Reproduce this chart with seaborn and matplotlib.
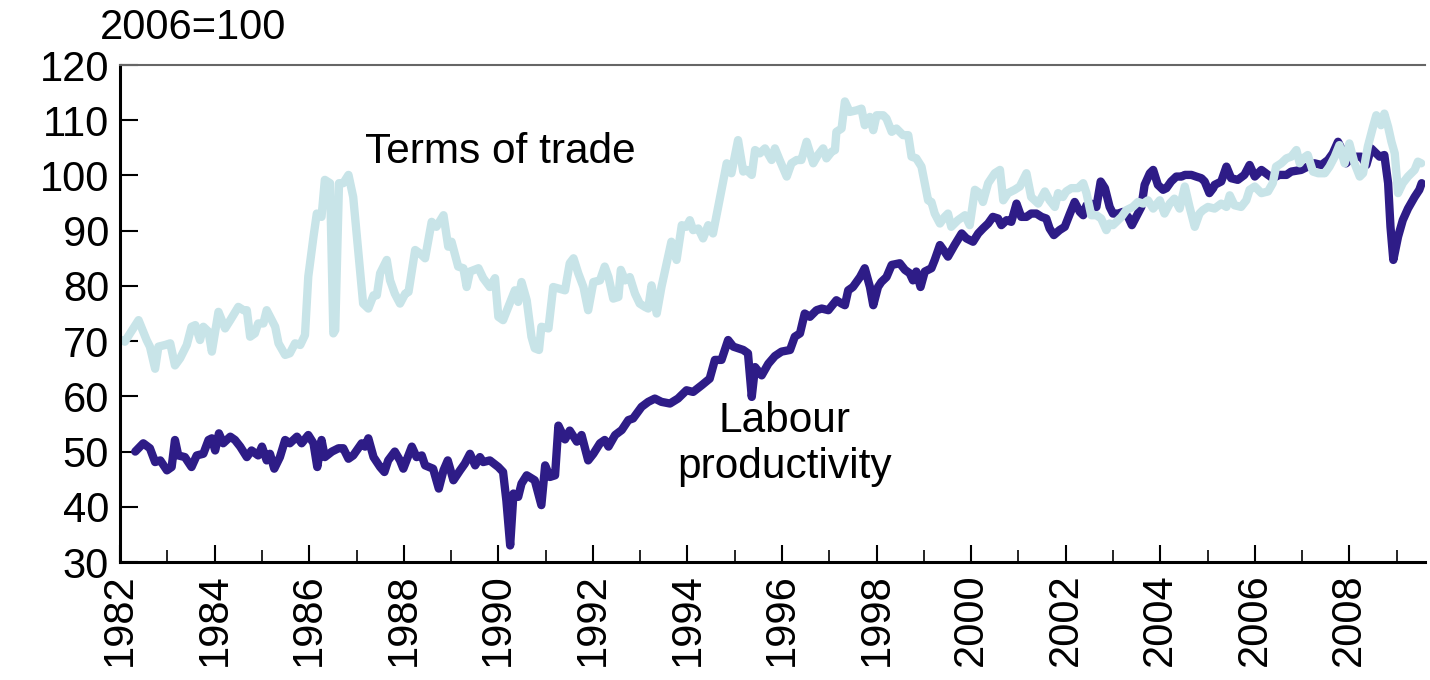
import pandas as pd
import matplotlib
matplotlib.use("Agg")
import matplotlib.pyplot as plt
import seaborn as sns

# Terms of trade (decimal year, index 2006=100)
tot_year = [
    1982.03, 1982.10, 1982.21, 1982.39, 1982.56, 1982.63, 1982.74, 1982.81, 1982.95, 1983.06,
    1983.16, 1983.27, 1983.41, 1983.51, 1983.59, 1983.69, 1983.76, 1983.87, 1983.94, 1984.08,
    1984.22, 1984.33, 1984.50, 1984.61, 1984.68, 1984.75, 1984.85, 1984.92, 1985.03, 1985.10,
    1985.28, 1985.35, 1985.49, 1985.59, 1985.70, 1985.81, 1985.91, 1985.98, 1986.09, 1986.16,
    1986.26, 1986.33, 1986.44, 1986.51, 1986.55, 1986.63, 1986.72, 1986.83, 1986.93, 1987.04,
    1987.14, 1987.25, 1987.36, 1987.43, 1987.50, 1987.64, 1987.71, 1987.81, 1987.92, 1988.03,
    1988.10, 1988.24, 1988.34, 1988.45, 1988.59, 1988.69, 1988.84, 1988.94, 1989.01, 1989.15,
    1989.26, 1989.33, 1989.40, 1989.58, 1989.68, 1989.82, 1989.93, 1990.00, 1990.10, 1990.21,
    1990.35, 1990.42, 1990.49, 1990.60, 1990.70, 1990.77, 1990.86, 1990.91, 1991.06, 1991.16,
    1991.41, 1991.51, 1991.59, 1991.69, 1991.80, 1991.90, 1992.01, 1992.15, 1992.25, 1992.33,
    1992.43, 1992.54, 1992.59, 1992.68, 1992.78, 1992.89, 1992.99, 1993.10, 1993.17, 1993.24,
    1993.35, 1993.45, 1993.59, 1993.66, 1993.77, 1993.88, 1993.98, 1994.05, 1994.12, 1994.23,
    1994.33, 1994.44, 1994.54, 1994.65, 1994.76, 1994.83, 1994.93, 1995.07, 1995.18, 1995.25,
    1995.36, 1995.43, 1995.53, 1995.64, 1995.78, 1995.85, 1995.95, 1996.10, 1996.20, 1996.31,
    1996.41, 1996.52, 1996.66, 1996.76, 1996.87, 1996.94, 1997.05, 1997.12, 1997.15, 1997.26,
    1997.33, 1997.43, 1997.58, 1997.68, 1997.75, 1997.86, 1997.93, 1998.00, 1998.14, 1998.21,
    1998.32, 1998.42, 1998.56, 1998.67, 1998.74, 1998.84, 1998.95, 1999.02, 1999.09, 1999.16,
    1999.23, 1999.34, 1999.44, 1999.51, 1999.58, 1999.72, 1999.87, 1999.97, 2000.08, 2000.18,
    2000.25, 2000.36, 2000.50, 2000.61, 2000.68, 2000.78, 2000.92, 2001.03, 2001.17, 2001.27,
    2001.42, 2001.56, 2001.66, 2001.77, 2001.84, 2001.94, 2002.01, 2002.12, 2002.26, 2002.37,
    2002.44, 2002.54, 2002.65, 2002.75, 2002.86, 2002.93, 2003.00, 2003.11, 2003.18, 2003.28,
    2003.42, 2003.53, 2003.64, 2003.74, 2003.85, 2003.99, 2004.09, 2004.20, 2004.30, 2004.41,
    2004.52, 2004.62, 2004.73, 2004.83, 2004.90, 2005.01, 2005.15, 2005.29, 2005.40, 2005.47,
    2005.57, 2005.71, 2005.82, 2005.89, 2006.00, 2006.14, 2006.28, 2006.38, 2006.45, 2006.56,
    2006.67, 2006.77, 2006.88, 2006.95, 2007.02, 2007.12, 2007.23, 2007.34, 2007.48, 2007.58,
    2007.69, 2007.79, 2007.90, 2008.00, 2008.11, 2008.22, 2008.29, 2008.39, 2008.50, 2008.57,
    2008.67, 2008.74, 2008.82, 2008.89, 2008.96, 2009.03, 2009.13, 2009.24, 2009.38, 2009.45,
    2009.52,
]
tot_value = [
    70.2, 69.9, 71.4, 73.8, 70.2, 69.0, 65.0, 69.0, 69.3, 69.6,
    65.6, 66.9, 69.3, 72.6, 72.9, 70.2, 72.6, 71.7, 68.1, 75.3,
    72.3, 73.8, 76.2, 75.6, 75.6, 70.8, 71.4, 73.2, 73.2, 75.6,
    72.6, 69.6, 67.5, 67.8, 69.6, 69.3, 71.1, 81.7, 88.9, 93.1,
    92.5, 99.2, 98.6, 71.4, 72.0, 98.6, 98.6, 100.1, 96.1, 85.9,
    76.8, 75.9, 78.3, 78.3, 82.3, 84.7, 81.0, 78.6, 76.8, 78.6,
    78.9, 86.5, 85.9, 85.0, 91.6, 90.7, 92.8, 87.1, 88.0, 83.5,
    83.2, 79.8, 82.6, 83.2, 81.4, 79.8, 81.4, 74.4, 73.8, 76.2,
    79.2, 77.1, 80.7, 77.4, 70.8, 68.7, 68.4, 72.6, 72.3, 79.8,
    79.2, 84.1, 85.0, 82.3, 79.8, 75.6, 80.7, 81.0, 83.5, 81.6,
    77.7, 78.0, 82.9, 81.0, 81.6, 78.6, 76.8, 76.2, 75.9, 80.1,
    75.0, 79.8, 85.3, 88.0, 84.7, 91.0, 90.7, 91.9, 90.1, 90.4,
    88.6, 91.0, 89.5, 94.3, 99.2, 102.2, 100.4, 106.4, 100.7, 101.0,
    100.1, 104.6, 104.0, 104.9, 102.8, 104.9, 102.8, 99.8, 102.2, 102.8,
    102.8, 106.1, 102.2, 103.7, 104.9, 103.1, 104.3, 104.6, 107.9, 108.5,
    113.4, 111.5, 111.8, 112.1, 109.1, 110.6, 108.2, 110.9, 110.9, 110.3,
    107.9, 108.5, 107.3, 107.3, 103.4, 103.1, 101.6, 98.6, 95.5, 95.2,
    93.1, 91.3, 92.5, 93.1, 90.7, 91.9, 92.8, 91.0, 97.4, 96.8,
    95.2, 98.6, 100.4, 101.0, 95.5, 96.8, 97.4, 98.0, 100.4, 96.1,
    94.9, 97.1, 95.5, 94.3, 96.8, 96.1, 97.1, 97.7, 97.7, 98.6,
    96.8, 92.8, 92.8, 92.2, 90.1, 91.3, 91.0, 91.9, 92.5, 93.7,
    94.3, 95.2, 94.9, 95.5, 94.0, 95.5, 93.1, 94.9, 95.8, 94.0,
    98.0, 94.3, 90.7, 93.1, 93.7, 94.3, 94.0, 94.9, 94.3, 96.4,
    94.6, 94.3, 95.5, 97.4, 98.0, 96.8, 97.1, 98.6, 101.6, 102.2,
    103.1, 103.4, 104.6, 102.2, 103.1, 103.7, 100.7, 100.4, 100.4, 101.6,
    103.4, 105.5, 102.2, 105.8, 102.2, 99.8, 100.4, 105.2, 108.8, 110.9,
    109.1, 111.2, 108.8, 106.1, 104.0, 96.8, 98.6, 99.8, 101.0, 102.5,
    102.2,
]

# Labour productivity (decimal year, index 2006=100)
lp_year = [
    1982.32, 1982.49, 1982.63, 1982.74, 1982.85, 1982.99, 1983.09, 1983.16, 1983.23, 1983.37,
    1983.51, 1983.62, 1983.76, 1983.87, 1983.94, 1984.01, 1984.09, 1984.18, 1984.33, 1984.43,
    1984.54, 1984.68, 1984.78, 1984.92, 1985.00, 1985.10, 1985.17, 1985.26, 1985.38, 1985.49,
    1985.59, 1985.74, 1985.84, 1985.98, 1986.09, 1986.17, 1986.26, 1986.33, 1986.48, 1986.62,
    1986.72, 1986.83, 1986.93, 1987.11, 1987.18, 1987.25, 1987.36, 1987.50, 1987.59, 1987.67,
    1987.81, 1987.92, 1987.99, 1988.17, 1988.27, 1988.38, 1988.45, 1988.62, 1988.74, 1988.84,
    1988.93, 1989.05, 1989.19, 1989.29, 1989.40, 1989.51, 1989.61, 1989.68, 1989.82, 1990.00,
    1990.10, 1990.17, 1990.25, 1990.32, 1990.42, 1990.49, 1990.60, 1990.77, 1990.91, 1990.99,
    1991.09, 1991.20, 1991.27, 1991.41, 1991.51, 1991.66, 1991.76, 1991.90, 1992.01, 1992.15,
    1992.25, 1992.33, 1992.47, 1992.61, 1992.75, 1992.85, 1993.03, 1993.17, 1993.31, 1993.45,
    1993.63, 1993.80, 1993.98, 1994.12, 1994.30, 1994.47, 1994.58, 1994.72, 1994.86, 1994.97,
    1995.18, 1995.28, 1995.36, 1995.43, 1995.57, 1995.71, 1995.85, 1995.99, 1996.17, 1996.27,
    1996.38, 1996.48, 1996.59, 1996.73, 1996.84, 1996.98, 1997.15, 1997.26, 1997.33, 1997.40,
    1997.50, 1997.65, 1997.75, 1997.86, 1997.93, 1998.03, 1998.10, 1998.21, 1998.32, 1998.49,
    1998.60, 1998.70, 1998.77, 1998.84, 1998.93, 1999.02, 1999.16, 1999.23, 1999.34, 1999.44,
    1999.51, 1999.65, 1999.80, 1999.90, 2000.04, 2000.15, 2000.25, 2000.36, 2000.46, 2000.57,
    2000.64, 2000.75, 2000.85, 2000.96, 2001.06, 2001.17, 2001.27, 2001.38, 2001.49, 2001.59,
    2001.66, 2001.75, 2001.87, 2001.98, 2002.09, 2002.19, 2002.30, 2002.37, 2002.44, 2002.54,
    2002.65, 2002.74, 2002.83, 2002.93, 2003.00, 2003.11, 2003.21, 2003.32, 2003.40, 2003.49,
    2003.60, 2003.67, 2003.78, 2003.85, 2003.95, 2004.06, 2004.13, 2004.23, 2004.34, 2004.45,
    2004.52, 2004.66, 2004.76, 2004.87, 2004.94, 2005.04, 2005.12, 2005.15, 2005.29, 2005.40,
    2005.50, 2005.64, 2005.78, 2005.89, 2006.00, 2006.14, 2006.28, 2006.38, 2006.52, 2006.67,
    2006.77, 2006.98, 2007.12, 2007.26, 2007.41, 2007.55, 2007.65, 2007.76, 2007.83, 2007.93,
    2008.04, 2008.11, 2008.25, 2008.36, 2008.46, 2008.57, 2008.64, 2008.74, 2008.82, 2008.87,
    2008.93, 2009.03, 2009.13, 2009.24, 2009.38, 2009.48, 2009.53,
]
lp_value = [
    50.0, 51.5, 50.6, 48.1, 48.4, 46.6, 47.2, 52.1, 49.3, 49.0,
    47.2, 49.3, 49.6, 52.1, 52.4, 50.2, 53.3, 51.5, 52.7, 52.1,
    50.9, 49.0, 50.2, 49.3, 50.9, 48.4, 49.6, 46.9, 49.0, 52.1,
    51.5, 52.7, 51.5, 53.0, 51.5, 47.2, 52.1, 49.0, 50.0, 50.6,
    50.6, 48.7, 49.3, 51.5, 50.9, 52.4, 49.0, 47.2, 46.3, 48.4,
    50.0, 48.4, 46.9, 50.9, 49.0, 49.3, 47.5, 46.9, 43.3, 46.6,
    48.4, 44.8, 46.6, 47.8, 49.6, 47.5, 49.0, 48.1, 48.4, 47.2,
    46.3, 41.1, 33.0, 42.4, 41.8, 44.2, 45.7, 44.8, 40.3, 47.5,
    45.4, 45.7, 54.7, 52.2, 53.8, 51.8, 53.0, 48.4, 49.6, 51.5,
    52.1, 50.9, 53.0, 53.9, 55.7, 56.0, 58.1, 59.0, 59.6, 59.0,
    58.7, 59.6, 61.1, 60.8, 62.0, 63.2, 66.6, 66.6, 70.2, 69.0,
    68.4, 67.8, 59.9, 65.3, 63.8, 65.9, 67.3, 68.1, 68.4, 70.8,
    71.4, 75.0, 74.4, 75.6, 75.9, 75.6, 77.4, 76.8, 76.5, 79.2,
    79.8, 81.6, 83.2, 79.8, 76.5, 79.8, 80.7, 81.6, 83.8, 84.1,
    82.9, 82.3, 81.0, 82.6, 79.8, 82.6, 83.2, 84.7, 87.4, 86.2,
    85.3, 87.4, 89.5, 88.6, 88.0, 89.5, 90.4, 91.3, 92.5, 92.2,
    91.0, 91.9, 91.6, 94.9, 92.5, 92.5, 93.1, 93.1, 92.5, 92.2,
    90.4, 89.2, 90.1, 90.7, 93.1, 95.2, 93.4, 92.8, 94.6, 94.9,
    94.3, 98.9, 97.7, 94.3, 93.1, 93.1, 93.4, 92.5, 91.0, 92.5,
    94.3, 98.3, 100.4, 101.0, 98.3, 97.4, 97.7, 98.9, 99.8, 99.8,
    100.1, 100.1, 99.8, 99.5, 98.9, 96.8, 97.7, 98.3, 98.9, 101.6,
    99.5, 99.2, 100.1, 101.9, 99.8, 101.0, 100.1, 99.5, 100.1, 100.1,
    100.7, 101.0, 101.6, 102.2, 101.9, 102.8, 104.0, 106.1, 104.9, 102.2,
    103.1, 103.4, 103.4, 101.9, 104.9, 104.0, 103.4, 103.7, 98.6, 90.7,
    84.7, 88.9, 91.9, 94.0, 96.1, 97.4, 98.6,
]

tot = pd.DataFrame({"year": tot_year, "value": tot_value})
lp = pd.DataFrame({"year": lp_year, "value": lp_value})

dark = "#2e1c87"
light = "#c8e4e8"

sns.set_style("ticks")
plt.rcParams["font.family"] = ["Liberation Sans", "DejaVu Sans"]
plt.rcParams["text.color"] = "black"
plt.rcParams["xtick.color"] = "black"
plt.rcParams["ytick.color"] = "black"

fig, ax = plt.subplots(figsize=(14.3, 6.8), dpi=100)
fig.subplots_adjust(left=0.084, right=0.9965, bottom=0.1735, top=0.9044)

line_kw = dict(linewidth=6, solid_capstyle="round", solid_joinstyle="round")
sns.lineplot(data=lp, x="year", y="value", ax=ax, color=dark, sort=False,
             estimator=None, **line_kw)
sns.lineplot(data=tot, x="year", y="value", ax=ax, color=light, sort=False,
             estimator=None, **line_kw)

ax.set_xlim(1982, 2009.6)
ax.set_ylim(30, 120)
ax.set_xlabel("")
ax.set_ylabel("")

ax.set_xticks(range(1982, 2009, 2))
ax.set_xticks(range(1983, 2010, 2), minor=True)
ax.set_xticklabels([str(y) for y in range(1982, 2009, 2)], rotation=90)
ax.set_yticks(range(30, 121, 10))

ax.tick_params(axis="both", which="major", direction="in", labelsize=30,
               color="black", labelcolor="black", width=1.5)
ax.tick_params(axis="x", which="major", length=12, pad=8)
ax.tick_params(axis="x", which="minor", direction="in", length=9, width=1.2)
ax.tick_params(axis="y", which="major", length=13, pad=8)

ax.spines["left"].set_linewidth(2.2)
ax.spines["bottom"].set_linewidth(2.2)
ax.spines["left"].set_color("black")
ax.spines["bottom"].set_color("black")
ax.spines["top"].set_visible(True)
ax.spines["top"].set_color("#666666")
ax.spines["top"].set_linewidth(1.5)
ax.spines["right"].set_visible(False)

ax.text(1987.18, 104.2, "Terms of trade", fontsize=30.5, color="black",
        ha="left", va="center")
ax.text(1996.06, 51.3, "Labour\nproductivity", fontsize=30.5, color="black",
        ha="center", va="center", linespacing=1.2)
fig.text(100 / 1430, 1 - 28 / 680, "2006=100", fontsize=30, color="black",
         ha="left", va="center")

plt.savefig("out.png", dpi=100)
plt.close()
